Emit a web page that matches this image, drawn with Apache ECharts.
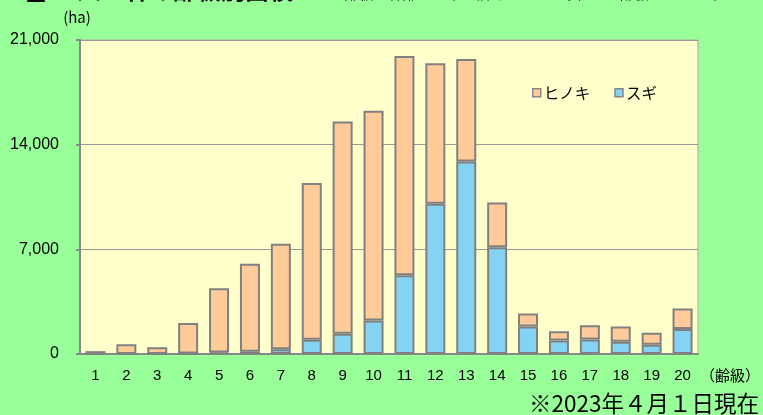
<!DOCTYPE html>
<html>
<head>
<meta charset="utf-8">
<script src="https://cdn.jsdelivr.net/npm/echarts@6/dist/echarts.min.js"></script>
<style>
html,body{margin:0;padding:0;background:#99FF99;}
#c{width:763px;height:415px;}
</style>
</head>
<body>
<div id="c"></div>
<script>
var categories = ['1','2','3','4','5','6','7','8','9','10','11','12','13','14','15','16','17','18','19','20'];
var sugi   = [0, 0, 0, 30, 100, 150, 316, 950, 1350, 2237, 5262, 10050, 12875, 7131, 1836, 900, 970, 815, 615, 1680];
var total  = [190, 650, 450, 2080, 4390, 6040, 7380, 11430, 15545, 16260, 19930, 19445, 19730, 10136, 2704, 1520, 1920, 1836, 1415, 3040];
var hinoki = total.map(function(t, i){ return t - sugi[i]; });
var yTicks = [0, 7000, 14000, 21000];

var chart = echarts.init(document.getElementById('c'), null, {renderer:'canvas'});
var font = '"Liberation Sans", Arial, sans-serif';
var jfont = '"Noto Sans CJK JP", sans-serif';
chart.setOption({
  backgroundColor: '#99FF99',
  animation: false,
  grid: {left: 80, right: 58, top: 40, bottom: 61, show: true, backgroundColor: '#FFFFCC', borderColor: '#AAAAAA', borderWidth: 1},
  legend: {
    data: ['ヒノキ', 'スギ'],
    left: 527, top: 80,
    itemWidth: 8, itemHeight: 8, itemGap: 24,
    icon: 'rect',
    textStyle: {fontFamily: jfont, fontSize: 15.5, color: '#000', padding: [0,0,0,-2]},
    itemStyle: {borderColor: '#888', borderWidth: 1.5}
  },
  xAxis: {
    type: 'category',
    data: categories,
    name: '（齢級）',
    nameLocation: 'end',
    nameGap: 2,
    nameTextStyle: {fontFamily: jfont, fontSize: 15, color: '#000', verticalAlign: 'top', align: 'left', padding: [14,0,0,0]},
    axisLine: {lineStyle: {color: '#888', width: 2}},
    axisTick: {show: false},
    axisLabel: {fontFamily: font, fontSize: 15, color: '#000', margin: 14}
  },
  yAxis: {
    type: 'value',
    min: yTicks[0], max: yTicks[yTicks.length-1], interval: 7000,
    name: '(ha)',
    nameLocation: 'end',
    nameGap: 15,
    nameTextStyle: {fontFamily: jfont, fontSize: 15, color: '#000', align: 'center', padding: [0,6,0,0]},
    axisLine: {show: true, lineStyle: {color: '#888', width: 2}},
    axisTick: {show: true, length: 4, lineStyle: {color: '#888', width: 2}},
    axisLabel: {fontFamily: font, fontSize: 16, color: '#000', margin: 21,
      formatter: function(v){ return v.toLocaleString('en-US'); }},
    splitLine: {lineStyle: {color: '#999', width: 1}}
  },
  series: [
    {name: 'スギ', type: 'bar', stack: 'a', data: sugi, barWidth: 20,
      itemStyle: {color: '#84D3F2', borderColor: '#808080', borderWidth: 2}},
    {name: 'ヒノキ', type: 'bar', stack: 'a', data: hinoki, barWidth: 20,
      itemStyle: {color: '#FFCC99', borderColor: '#808080', borderWidth: 2}}
  ],
  graphic: [
    {type: 'text', x: 759, y: 403, style: {text: '※2023年４月１日現在', fontFamily: jfont, fontSize: 22.5, fill: '#000', textAlign: 'right', textVerticalAlign: 'middle'}},
    {type: 'text', x: 25, y: 3.5, style: {text: '■', fontFamily: jfont, fontSize: 22, fill: '#000', textAlign: 'left', textVerticalAlign: 'bottom'}},
    {type: 'text', x: 77, y: 2, style: {text: '人工林の齢級別面積', fontFamily: jfont, fontSize: 24, fontWeight: 'bold', fill: '#000', textAlign: 'left', textVerticalAlign: 'bottom'}},
    {type: 'text', x: 330, y: 1, style: {text: '（齢級：林齢を５年の幅でくくった単位、１齢級は１～５年生）', fontFamily: jfont, fontSize: 14.5, fill: '#000', textAlign: 'left', textVerticalAlign: 'bottom'}}
  ]
});
</script>
</body>
</html>
